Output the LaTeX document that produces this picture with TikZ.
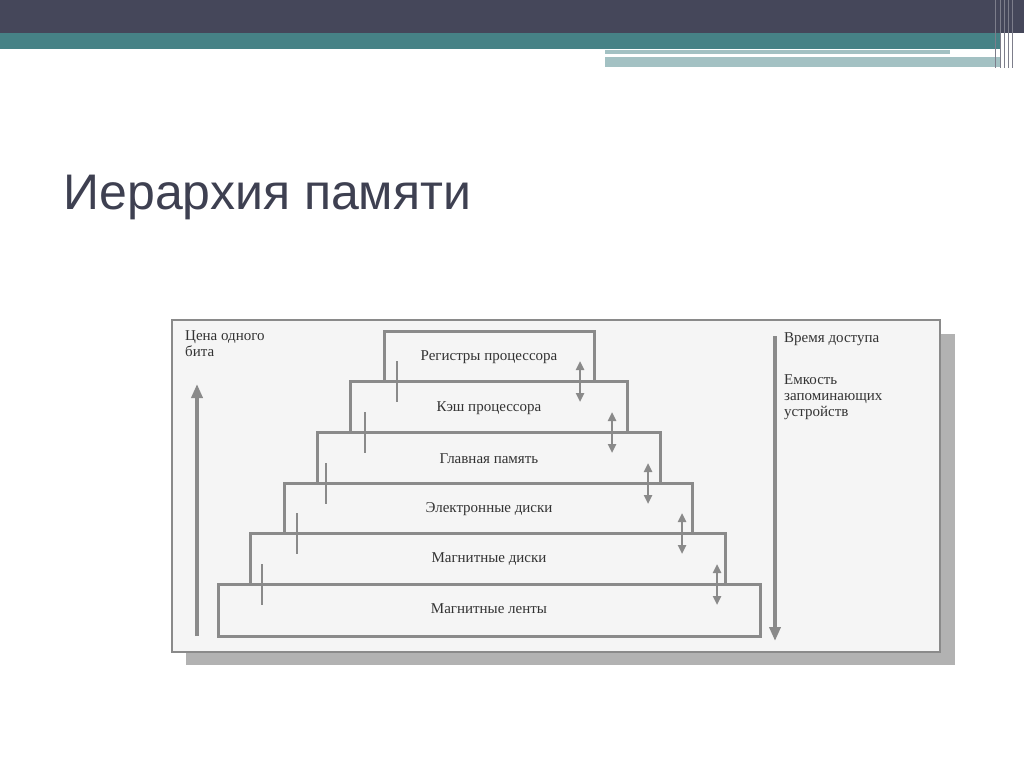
\documentclass[tikz,border=0pt]{standalone}
\usepackage{fontspec}
\setmainfont{Liberation Serif}
\newfontfamily\titlefont{Liberation Sans}
\usetikzlibrary{arrows.meta}
\definecolor{dark}{HTML}{45475A}
\definecolor{teal1}{HTML}{468286}
\definecolor{lteal}{HTML}{A3C1C3}
\definecolor{ln}{HTML}{8A8A8A}
\definecolor{bg}{HTML}{F5F5F5}
\tikzset{
  lvl/.style={draw=ln,line width=3pt,fill=bg},
  lbl/.style={font=\fontsize{15}{16}\selectfont,text=black!80},
  darr/.style={draw=ln,line width=2.5pt,{Triangle[length=9pt,width=8pt]}-{Triangle[length=9pt,width=8pt]}},
  sarr/.style={draw=ln,line width=4pt,-{Triangle[length=14pt,width=11pt]}}
}
\begin{document}
\begin{tikzpicture}[x=1pt,y=-1pt]
\useasboundingbox (0,0) rectangle (1024,767);
\fill[white] (0,0) rectangle (1024,767);
\fill[dark] (0,0) rectangle (1024,33);
\fill[teal1] (0,33) rectangle (1000,49);
\fill[lteal] (605,50) rectangle (950,54);
\fill[lteal] (605,57) rectangle (1000,67);
\foreach \x in {995,1000,1004,1008,1012} \draw[dark!70,line width=1pt] (\x,0)--(\x,68);
\node[font=\titlefont\fontsize{50}{52}\selectfont,text=dark!90!black,anchor=base west] (title) at (60,210) {Иерархия памяти};
% frame
\fill[black!30] (186,334) rectangle (955,665);
\draw[ln,line width=2.5pt,fill=bg] (172,320) rectangle (940,652);
% levels (bottom first? top drawn over)
\draw[lvl] (384,331) rectangle (594,383);
\draw[lvl] (350,381) rectangle (627,434);
\draw[lvl] (317,432) rectangle (660,485);
\draw[lvl] (284,483) rectangle (692,535);
\draw[lvl] (250,533) rectangle (725,586);
\draw[lvl] (218,584) rectangle (760,636);
\node[lbl] (l1) at (489,357) {Регистры процессора};
\node[lbl] (l2) at (489,408) {Кэш процессора};
\node[lbl] (l3) at (489,459) {Главная память};
\node[lbl] (l4) at (489,509) {Электронные диски};
\node[lbl] (l5) at (489,559) {Магнитные диски};
\node[lbl] (l6) at (489,609) {Магнитные ленты};
\foreach \xl/\xr/\y in {397/580/381,365/612/432,326/648/483,297/682/533,262/717/584}
  \draw[darr] (\xl,\y-20)--(\xl,\y+21) (\xr,\y-20)--(\xr,\y+21);
\coordinate (lb) at (197,636); \coordinate (lt) at (197,384);
\draw[sarr] (lb)--(lt);
\coordinate (rt) at (775,336); \coordinate (rb) at (775,641);
\draw[sarr] (rt)--(rb);
\node[lbl,anchor=north west,align=left,inner sep=0pt] (price) at (185,330) {Цена одного\\бита};
\node[lbl,anchor=north west,inner sep=0pt] (time) at (784,332) {Время доступа};
\node[lbl,anchor=north west,align=left,inner sep=0pt] (cap) at (784,374) {Емкость\\запоминающих\\устройств};
\end{tikzpicture}
\end{document}
